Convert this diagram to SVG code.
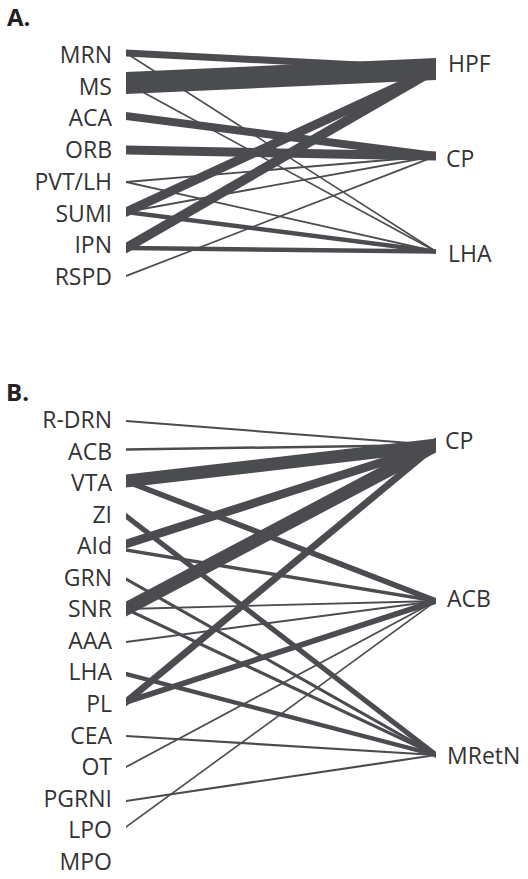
<svg xmlns="http://www.w3.org/2000/svg" width="528" height="879" viewBox="0 0 528 879">
<style>
  text { font-family: "Open Sans", "Noto Sans", "Liberation Sans", sans-serif; font-size: 23px; fill: #333335; }
  .l { text-anchor: end; }
  .hdr { font-weight: bold; font-size: 24px; fill: #222; }
  .e { fill: #4b4c50; stroke: none; }
</style>
<rect width="528" height="879" fill="#ffffff"/>

<text class="hdr" x="7" y="26">A.</text>
<text class="hdr" x="6" y="401">B.</text>

<g id="connectors-A">
  <path class="e" d="M126 49.5 L436 65.5 L436 72.5 L126 56.5Z"/>
  <path class="e" d="M126 52.1 L436 250.6 L436 252.4 L126 53.9Z"/>
  <path class="e" d="M126 72 L436 58 L436 80 L126 94Z"/>
  <path class="e" d="M126 82.1 L436 250.6 L436 252.4 L126 83.9Z"/>
  <path class="e" d="M126 112 L436 152 L436 160 L126 120Z"/>
  <path class="e" d="M126 145.5 L436 151.5 L436 160.5 L126 154.5Z"/>
  <path class="e" d="M126 181.1 L436 155.1 L436 156.9 L126 182.9Z"/>
  <path class="e" d="M126 181.1 L436 250.6 L436 252.4 L126 182.9Z"/>
  <path class="e" d="M126 207 L436 64 L436 74 L126 217Z"/>
  <path class="e" d="M126 211.1 L436 155.1 L436 156.9 L126 212.9Z"/>
  <path class="e" d="M126 209.75 L436 249.25 L436 253.75 L126 214.25Z"/>
  <path class="e" d="M126 242.5 L436 63.5 L436 74.5 L126 253.5Z"/>
  <path class="e" d="M126 245.75 L436 249.25 L436 253.75 L126 250.25Z"/>
  <path class="e" d="M126 275.1 L436 155.1 L436 156.9 L126 276.9Z"/>
</g>

<g id="connectors-B">
  <path class="e" d="M126 420 L436 444 L436 446 L126 422Z"/>
  <path class="e" d="M126 448.25 L436 443.75 L436 446.25 L126 450.75Z"/>
  <path class="e" d="M126 474.5 L436 438.5 L436 451.5 L126 487.5Z"/>
  <path class="e" d="M126 478 L436 598 L436 604 L126 484Z"/>
  <path class="e" d="M126 512.75 L436 751.75 L436 758.25 L126 519.25Z"/>
  <path class="e" d="M126 539.5 L436 440.5 L436 449.5 L126 548.5Z"/>
  <path class="e" d="M126 548.25 L436 599.25 L436 602.75 L126 551.75Z"/>
  <path class="e" d="M126 577.25 L436 753.25 L436 756.75 L126 580.75Z"/>
  <path class="e" d="M126 601.5 L436 437.5 L436 452.5 L126 616.5Z"/>
  <path class="e" d="M126 608.1 L436 600.1 L436 601.9 L126 609.9Z"/>
  <path class="e" d="M126 607.25 L436 753.25 L436 756.75 L126 610.75Z"/>
  <path class="e" d="M126 641 L436 600 L436 602 L126 643Z"/>
  <path class="e" d="M126 671.75 L436 752.75 L436 757.25 L126 676.25Z"/>
  <path class="e" d="M126 697.5 L436 440.5 L436 449.5 L126 706.5Z"/>
  <path class="e" d="M126 699 L436 598 L436 604 L126 705Z"/>
  <path class="e" d="M126 734.9 L436 753.9 L436 756.1 L126 737.1Z"/>
  <path class="e" d="M126 766 L436 600 L436 602 L126 768Z"/>
  <path class="e" d="M126 799.9 L436 753.9 L436 756.1 L126 802.1Z"/>
  <path class="e" d="M126 826 L436 600 L436 602 L126 828Z"/>
</g>

<g id="A-MRN"><text class="l" x="112" y="63">MRN</text></g>
<g id="A-MS"><text class="l" x="112" y="94.5">MS</text></g>
<g id="A-ACA"><text class="l" x="112" y="126">ACA</text></g>
<g id="A-ORB"><text class="l" x="112" y="158">ORB</text></g>
<g id="A-PVTLH"><text class="l" x="112" y="190">PVT/LH</text></g>
<g id="A-SUMI"><text class="l" x="112" y="221.5">SUMI</text></g>
<g id="A-IPN"><text class="l" x="112" y="253">IPN</text></g>
<g id="A-RSPD"><text class="l" x="112" y="285">RSPD</text></g>
<g id="A-HPF"><text x="448" y="72">HPF</text></g>
<g id="A-CP"><text x="446" y="167">CP</text></g>
<g id="A-LHA"><text x="448" y="262">LHA</text></g>

<g id="B-RDRN"><text class="l" x="112" y="428">R-DRN</text></g>
<g id="B-ACB"><text class="l" x="112" y="459.5">ACB</text></g>
<g id="B-VTA"><text class="l" x="112" y="491">VTA</text></g>
<g id="B-ZI"><text class="l" x="112" y="522.7">ZI</text></g>
<g id="B-AId"><text class="l" x="112" y="554.2">AId</text></g>
<g id="B-GRN"><text class="l" x="112" y="585.8">GRN</text></g>
<g id="B-SNR"><text class="l" x="112" y="617.3">SNR</text></g>
<g id="B-AAA"><text class="l" x="112" y="648.9">AAA</text></g>
<g id="B-LHA"><text class="l" x="112" y="680.4">LHA</text></g>
<g id="B-PL"><text class="l" x="112" y="712">PL</text></g>
<g id="B-CEA"><text class="l" x="112" y="743.5">CEA</text></g>
<g id="B-OT"><text class="l" x="112" y="775">OT</text></g>
<g id="B-PGRNI"><text class="l" x="112" y="806.6">PGRNI</text></g>
<g id="B-LPO"><text class="l" x="112" y="838.2">LPO</text></g>
<g id="B-MPO"><text class="l" x="112" y="869.7">MPO</text></g>
<g id="B-CP"><text x="445" y="449">CP</text></g>
<g id="B-ACBt"><text x="447" y="607">ACB</text></g>
<g id="B-MRetN"><text x="447" y="764">MRetN</text></g>
</svg>
